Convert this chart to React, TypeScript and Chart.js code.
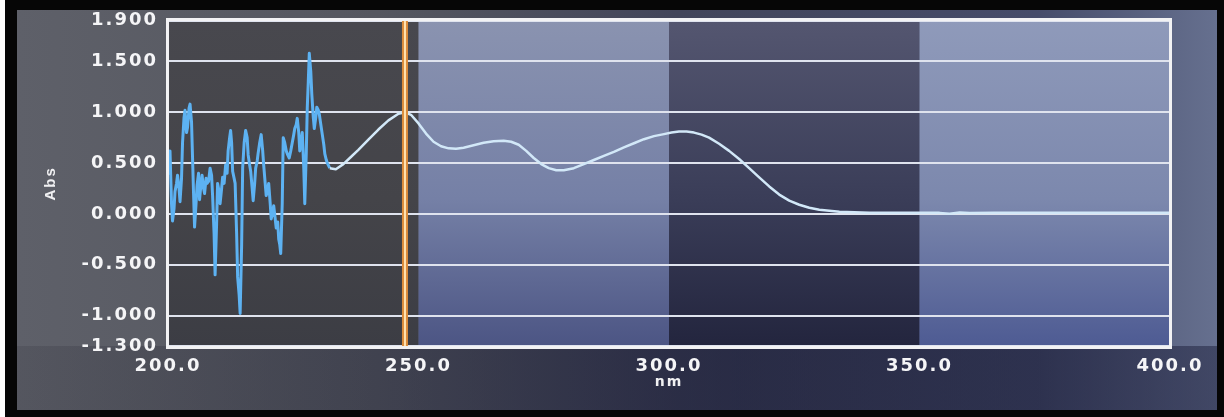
import { useEffect, useRef } from 'react';
import { Chart, registerables } from 'chart.js';

Chart.register(...registerables);

// Wavelength (nm) and absorbance
const wavelengths = [
  200.0, 200.2, 200.4, 200.7, 200.9, 201.2, 201.4, 201.7, 201.9, 202.2,
  202.4, 202.7, 202.9, 203.2, 203.4, 203.7, 203.9, 204.2, 204.4, 204.7,
  204.9, 205.1, 205.3, 205.6, 205.8, 206.1, 206.3, 206.6, 206.8, 207.1,
  207.3, 207.6, 207.8, 208.1, 208.4, 208.7, 208.9, 209.2, 209.4, 209.7,
  209.9, 210.2, 210.4, 210.7, 210.9, 211.2, 211.5, 211.8, 212.0, 212.3,
  212.5, 212.7, 212.9, 213.2, 213.4, 213.7, 213.9, 214.2, 214.4, 214.7,
  214.9, 215.2, 215.5, 215.8, 216.0, 216.3, 216.5, 216.8, 217.0, 217.3,
  217.5, 217.8, 218.0, 218.3, 218.6, 218.9, 219.1, 219.4, 219.6, 219.9,
  220.1, 220.4, 220.6, 220.9, 221.1, 221.4, 221.6, 221.9, 222.1, 222.3,
  222.5, 222.8, 223.0, 223.3, 223.6, 223.9, 224.2, 224.5, 224.8, 225.1,
  225.3, 225.6, 225.8, 226.1, 226.3, 226.6, 226.8, 227.1, 227.3, 227.6,
  227.8, 228.0, 228.2, 228.5, 228.7, 229.0, 229.2, 229.5, 229.7, 230.0,
  230.2, 230.5, 230.8, 231.1, 231.3, 231.6, 231.8, 232.3,
  233.5, 235.0, 236.5, 238.0, 240.0, 242.0, 244.0, 246.0, 247.3, 248.5,
  250.0, 251.5, 253.0, 254.5, 256.0, 257.5, 259.0, 261.0, 263.0, 265.0,
  267.0, 268.5, 270.0, 271.5, 273.0, 274.5, 276.0, 277.5, 279.0, 281.0,
  283.0, 285.0, 287.0, 289.0, 291.0, 293.0, 295.0, 297.0, 299.0, 300.5,
  302.0, 303.5, 305.0, 306.5, 308.0, 310.0, 312.0, 314.0, 316.0, 318.0,
  320.0, 322.0, 324.0, 326.0, 328.0, 330.0, 332.0, 334.0, 337.0, 340.0,
  345.0, 350.0, 354.0, 356.0, 358.0, 360.0, 365.0, 370.0, 380.0, 390.0,
  400.0,
];

const absorbance = [
  0.55, 0.40, 0.62, 0.10, -0.07, 0.05, 0.22, 0.30, 0.38, 0.25,
  0.12, 0.35, 0.70, 0.95, 1.02, 0.80, 0.85, 1.04, 1.08, 0.90,
  0.55, 0.20, -0.13, 0.10, 0.28, 0.40, 0.14, 0.30, 0.38, 0.25,
  0.20, 0.35, 0.30, 0.32, 0.45, 0.38, 0.18, -0.20, -0.60, -0.10,
  0.30, 0.22, 0.10, 0.25, 0.36, 0.30, 0.48, 0.40, 0.62, 0.75,
  0.82, 0.70, 0.42, 0.35, 0.30, -0.20, -0.62, -0.80, -0.98, -0.30,
  0.45, 0.70, 0.82, 0.75, 0.58, 0.48, 0.42, 0.25, 0.13, 0.30,
  0.45, 0.52, 0.60, 0.70, 0.78, 0.62, 0.48, 0.30, 0.18, 0.25,
  0.30, 0.10, -0.05, 0.02, 0.08, -0.05, -0.14, -0.08, -0.25, -0.30,
  -0.39, 0.10, 0.75, 0.70, 0.62, 0.58, 0.55, 0.62, 0.70, 0.78,
  0.84, 0.88, 0.94, 0.80, 0.62, 0.72, 0.80, 0.45, 0.10, 0.60,
  1.05, 1.30, 1.58, 1.40, 1.18, 0.95, 0.84, 0.95, 1.05, 1.02,
  0.98, 0.88, 0.78, 0.68, 0.59, 0.53, 0.50, 0.45,
  0.44, 0.49, 0.56, 0.63, 0.73, 0.83, 0.92, 0.985, 1.0, 0.975,
  0.89, 0.79, 0.71, 0.665, 0.645, 0.64, 0.65, 0.675, 0.70, 0.715,
  0.72, 0.71, 0.68, 0.62, 0.55, 0.49, 0.45, 0.43, 0.43, 0.45,
  0.49, 0.53, 0.57, 0.61, 0.655, 0.695, 0.735, 0.765, 0.785, 0.80,
  0.81, 0.81, 0.80, 0.78, 0.75, 0.69, 0.62, 0.54, 0.45, 0.36,
  0.27, 0.19, 0.13, 0.09, 0.06, 0.04, 0.03, 0.02, 0.015, 0.012,
  0.012, 0.012, 0.01, 0.002, 0.014, 0.008, 0.012, 0.012, 0.012, 0.012,
  0.012,
];

const xTicks = [200, 250, 300, 350, 400];
const yTicks = [-1.3, -1.0, -0.5, 0.0, 0.5, 1.0, 1.5, 1.9];
const cursorWavelength = 247.3;
const noiseEndWavelength = 232.3;

// Styles
const NOISE_COLOR = '#5db2f2';
const CURVE_COLOR = '#d2e8f8';
const bandStyles = [
  ['#48484e', '#444449', '#3c3d44'],
  ['#8a93b0', '#7580a6', '#4c5584'],
  ['#545670', '#3a3d58', '#23253e'],
  ['#8f9aba', '#7c88ad', '#4e5b93'],
];

const screenPlugin = {
  id: 'screenPlugin',
  beforeDraw(chart: any) {
    const { ctx, chartArea: ca, scales } = chart;
    const W = chart.width;
    const H = chart.height;
    ctx.save();
    ctx.fillStyle = '#ffffff';
    ctx.fillRect(0, 0, W, H);
    ctx.fillStyle = '#060606';
    ctx.fillRect(5, 0, W - 5, H);
    const sx = 17, sy = 10, sw = 1200, sh = 400;
    let g = ctx.createLinearGradient(sx, 0, sx + sw, 0);
    g.addColorStop(0, '#5e6069');
    g.addColorStop(0.3, '#55575f');
    g.addColorStop(0.55, '#42455a');
    g.addColorStop(0.85, '#464c6a');
    g.addColorStop(1, '#66708f');
    ctx.fillStyle = g;
    ctx.fillRect(sx, sy, sw, sh);
    g = ctx.createLinearGradient(sx, 0, sx + sw, 0);
    g.addColorStop(0, 'rgba(30,30,40,0.15)');
    g.addColorStop(0.3, 'rgba(25,27,50,0.35)');
    g.addColorStop(0.6, 'rgba(20,22,50,0.55)');
    g.addColorStop(1, 'rgba(20,22,50,0.45)');
    ctx.fillStyle = g;
    ctx.fillRect(sx, ca.bottom, sw, sy + sh - ca.bottom);
    const x = scales.x;
    for (let i = 0; i < xTicks.length - 1; i++) {
      const x0 = x.getPixelForValue(xTicks[i]);
      const x1 = x.getPixelForValue(xTicks[i + 1]);
      const st = bandStyles[i];
      const bg = ctx.createLinearGradient(0, ca.top, 0, ca.bottom);
      bg.addColorStop(0, st[0]);
      bg.addColorStop(0.55, st[1]);
      bg.addColorStop(1, st[2]);
      ctx.fillStyle = bg;
      ctx.fillRect(x0, ca.top, x1 - x0, ca.bottom - ca.top);
    }
    ctx.restore();
    ctx.letterSpacing = '2px';
  },
  beforeDatasetsDraw(chart: any) {
    chart.ctx.letterSpacing = '0px';
  },
  afterDraw(chart: any) {
    const { ctx, chartArea: ca, scales } = chart;
    const cx = scales.x.getPixelForValue(cursorWavelength);
    ctx.save();
    ctx.fillStyle = '#dc8c3c';
    ctx.fillRect(cx - 3, ca.top, 6, ca.bottom - ca.top);
    ctx.fillStyle = '#ffe2b0';
    ctx.fillRect(cx - 1, ca.top, 2, ca.bottom - ca.top);
    // plot frame
    ctx.fillStyle = '#f2f2f4';
    const l = Math.round(ca.left), r = Math.round(ca.right);
    const t = Math.round(ca.top), b = Math.round(ca.bottom);
    ctx.fillRect(l - 2, t - 3, r - l + 4, 3);
    ctx.fillRect(l - 2, b, r - l + 4, 3);
    ctx.fillRect(l - 2, t - 3, 3, b - t + 6);
    ctx.fillRect(r - 1, t - 3, 3, b - t + 6);
    ctx.restore();
  },
};

export default function App() {
  const canvasRef = useRef<HTMLCanvasElement | null>(null);

  useEffect(() => {
    const canvas = canvasRef.current;
    if (!canvas) return;
    const points = wavelengths.map((w, i) => ({ x: w, y: absorbance[i] }));
    const chart = new Chart(canvas, {
      type: 'line',
      data: {
        datasets: [
          {
            data: points,
            borderColor: CURVE_COLOR,
            borderWidth: 2.5,
            pointRadius: 0,
            tension: 0,
            borderJoinStyle: 'round',
            segment: {
              borderColor: (c: any) => (c.p1.parsed.x <= noiseEndWavelength ? NOISE_COLOR : CURVE_COLOR),
              borderWidth: (c: any) => (c.p1.parsed.x <= noiseEndWavelength ? 3 : 2.5),
            },
          } as any,
        ],
      },
      options: {
        animation: false,
        responsive: false,
        devicePixelRatio: 1,
        layout: { padding: { top: 19, right: 54, bottom: 0, left: 0 } },
        plugins: { legend: { display: false }, tooltip: { enabled: false } },
        scales: {
          x: {
            type: 'linear',
            min: 200,
            max: 400,
            afterBuildTicks: (s: any) => {
              s.ticks = xTicks.map((v) => ({ value: v }));
            },
            afterFit: (s: any) => {
              s.height = 71;
            },
            grid: { display: false, drawTicks: false },
            border: { display: false },
            ticks: {
              autoSkip: false,
              maxRotation: 0,
              padding: 10,
              color: '#f5f5f7',
              font: { family: 'DejaVu Sans', weight: 'bold', size: 18 },
              callback: (v: any) => Number(v).toFixed(1),
            },
            title: {
              display: true,
              text: 'nm',
              color: '#f0f0f2',
              font: { family: 'DejaVu Sans', weight: 'bold', size: 14 },
              padding: { top: 0, bottom: 26 },
            },
          },
          y: {
            type: 'linear',
            min: -1.3,
            max: 1.9,
            afterBuildTicks: (s: any) => {
              s.ticks = yTicks.map((v) => ({ value: v }));
            },
            afterFit: (s: any) => {
              s.width = 168;
            },
            grid: { color: '#dfe3ee', lineWidth: 2, drawTicks: false },
            border: { display: false },
            ticks: {
              autoSkip: false,
              padding: 10,
              color: '#f5f5f7',
              font: { family: 'DejaVu Sans', weight: 'bold', size: 18 },
              callback: (v: any) => Number(v).toFixed(3),
            },
            title: {
              display: true,
              text: 'Abs',
              color: '#f0f0f2',
              font: { family: 'Liberation Sans', weight: 'bold', size: 15 },
              padding: { top: 42, bottom: 0 },
            },
          },
        },
      },
      plugins: [screenPlugin],
    } as any);
    return () => chart.destroy();
  }, []);

  return (
    <div style={{ position: 'fixed', left: 0, top: 0, width: 1224, height: 417, overflow: 'hidden' }}>
      <canvas ref={canvasRef} width={1224} height={417} style={{ display: 'block', width: 1224, height: 417 }} />
    </div>
  );
}
